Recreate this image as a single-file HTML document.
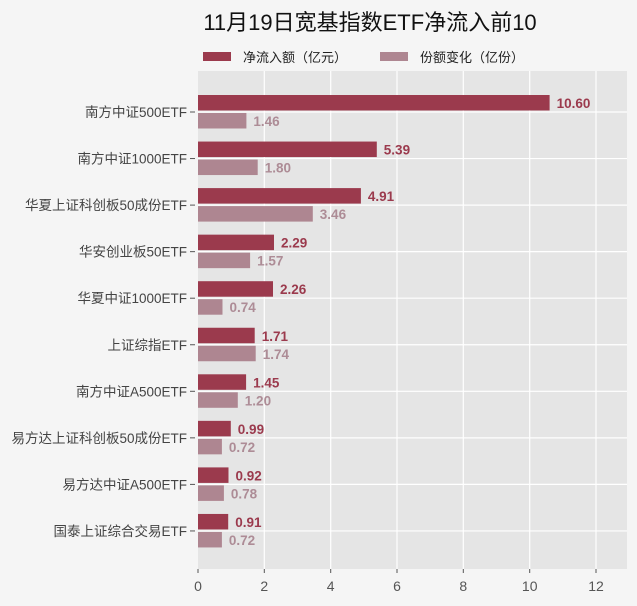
<!DOCTYPE html>
<html><head><meta charset="utf-8"><style>
body{margin:0;background:#f5f5f5;}
svg{display:block;font-family:"Liberation Sans","Noto Sans CJK SC",sans-serif;}
.n{fill:#9b3a4d}.s{fill:#ae8691}
.ln{font-size:13.5px;font-weight:bold;fill:#9b3a4d}
.ls{font-size:13.5px;font-weight:bold;fill:#ad8c96}
.c{font-size:13.5px;fill:#444;text-anchor:end}
</style></head><body>
<svg width="637" height="606" xmlns="http://www.w3.org/2000/svg">
<rect width="637" height="606" fill="#f5f5f5"/>
<text x="370" y="30" font-size="22" text-anchor="middle" fill="#111">11月19日宽基指数ETF净流入前10</text>
<rect x="203" y="52" width="28" height="9" fill="#9b3a4d"/>
<text x="243" y="62" font-size="13" fill="#222">净流入额（亿元）</text>
<rect x="380" y="52" width="28" height="9" fill="#ae8691"/>
<text x="420" y="62" font-size="13" fill="#222">份额变化（亿份）</text>
<rect x="198" y="71" width="429" height="498" fill="#e5e5e5"/>
<g stroke="#fff" stroke-width="1.2">
<line x1="264.3" y1="71" x2="264.3" y2="569"/><line x1="330.7" y1="71" x2="330.7" y2="569"/>
<line x1="397" y1="71" x2="397" y2="569"/><line x1="463.3" y1="71" x2="463.3" y2="569"/>
<line x1="529.7" y1="71" x2="529.7" y2="569"/><line x1="596" y1="71" x2="596" y2="569"/>
<line x1="198" y1="112" x2="627" y2="112"/><line x1="198" y1="158.55" x2="627" y2="158.55"/>
<line x1="198" y1="205.1" x2="627" y2="205.1"/><line x1="198" y1="251.65" x2="627" y2="251.65"/>
<line x1="198" y1="298.2" x2="627" y2="298.2"/><line x1="198" y1="344.75" x2="627" y2="344.75"/>
<line x1="198" y1="391.3" x2="627" y2="391.3"/><line x1="198" y1="437.85" x2="627" y2="437.85"/>
<line x1="198" y1="484.4" x2="627" y2="484.4"/><line x1="198" y1="530.95" x2="627" y2="530.95"/>
</g>

<g transform="translate(0,112)"><rect class="n" x="198" y="-17" width="351.6" height="15.5"/><rect class="s" x="198" y="1" width="48.4" height="15.5"/><text class="ln" x="556.6" y="-4">10.60</text><text class="ls" x="253.4" y="14">1.46</text><text class="c" x="187" y="5">南方中证500ETF</text><line x1="190" x2="195" stroke="#555"/></g>
<g transform="translate(0,158.55)"><rect class="n" x="198" y="-17" width="178.8" height="15.5"/><rect class="s" x="198" y="1" width="59.7" height="15.5"/><text class="ln" x="383.8" y="-4">5.39</text><text class="ls" x="264.7" y="14">1.80</text><text class="c" x="187" y="5">南方中证1000ETF</text><line x1="190" x2="195" stroke="#555"/></g>
<g transform="translate(0,205.1)"><rect class="n" x="198" y="-17" width="162.9" height="15.5"/><rect class="s" x="198" y="1" width="114.8" height="15.5"/><text class="ln" x="367.9" y="-4">4.91</text><text class="ls" x="319.8" y="14">3.46</text><text class="c" x="187" y="5">华夏上证科创板50成份ETF</text><line x1="190" x2="195" stroke="#555"/></g>
<g transform="translate(0,251.65)"><rect class="n" x="198" y="-17" width="76" height="15.5"/><rect class="s" x="198" y="1" width="52.1" height="15.5"/><text class="ln" x="281" y="-4">2.29</text><text class="ls" x="257.1" y="14">1.57</text><text class="c" x="187" y="5">华安创业板50ETF</text><line x1="190" x2="195" stroke="#555"/></g>
<g transform="translate(0,298.2)"><rect class="n" x="198" y="-17" width="75" height="15.5"/><rect class="s" x="198" y="1" width="24.5" height="15.5"/><text class="ln" x="280" y="-4">2.26</text><text class="ls" x="229.5" y="14">0.74</text><text class="c" x="187" y="5">华夏中证1000ETF</text><line x1="190" x2="195" stroke="#555"/></g>
<g transform="translate(0,344.75)"><rect class="n" x="198" y="-17" width="56.7" height="15.5"/><rect class="s" x="198" y="1" width="57.7" height="15.5"/><text class="ln" x="261.7" y="-4">1.71</text><text class="ls" x="262.7" y="14">1.74</text><text class="c" x="187" y="5">上证综指ETF</text><line x1="190" x2="195" stroke="#555"/></g>
<g transform="translate(0,391.3)"><rect class="n" x="198" y="-17" width="48.1" height="15.5"/><rect class="s" x="198" y="1" width="39.8" height="15.5"/><text class="ln" x="253.1" y="-4">1.45</text><text class="ls" x="244.8" y="14">1.20</text><text class="c" x="187" y="5">南方中证A500ETF</text><line x1="190" x2="195" stroke="#555"/></g>
<g transform="translate(0,437.85)"><rect class="n" x="198" y="-17" width="32.8" height="15.5"/><rect class="s" x="198" y="1" width="23.9" height="15.5"/><text class="ln" x="237.8" y="-4">0.99</text><text class="ls" x="228.9" y="14">0.72</text><text class="c" x="187" y="5">易方达上证科创板50成份ETF</text><line x1="190" x2="195" stroke="#555"/></g>
<g transform="translate(0,484.4)"><rect class="n" x="198" y="-17" width="30.5" height="15.5"/><rect class="s" x="198" y="1" width="25.9" height="15.5"/><text class="ln" x="235.5" y="-4">0.92</text><text class="ls" x="230.9" y="14">0.78</text><text class="c" x="187" y="5">易方达中证A500ETF</text><line x1="190" x2="195" stroke="#555"/></g>
<g transform="translate(0,530.95)"><rect class="n" x="198" y="-17" width="30.2" height="15.5"/><rect class="s" x="198" y="1" width="23.9" height="15.5"/><text class="ln" x="235.2" y="-4">0.91</text><text class="ls" x="228.9" y="14">0.72</text><text class="c" x="187" y="5">国泰上证综合交易ETF</text><line x1="190" x2="195" stroke="#555"/></g>

<g font-size="14" fill="#555" text-anchor="middle">
<text x="198" y="591">0</text><text x="264.3" y="591">2</text><text x="330.7" y="591">4</text><text x="397" y="591">6</text><text x="463.3" y="591">8</text><text x="529.7" y="591">10</text><text x="596" y="591">12</text>
</g>
<g stroke="#555"><line x1="198" y1="569" x2="198" y2="573"/><line x1="264.3" y1="569" x2="264.3" y2="573"/><line x1="330.7" y1="569" x2="330.7" y2="573"/><line x1="397" y1="569" x2="397" y2="573"/><line x1="463.3" y1="569" x2="463.3" y2="573"/><line x1="529.7" y1="569" x2="529.7" y2="573"/><line x1="596" y1="569" x2="596" y2="573"/></g>
</svg>
</body></html>
